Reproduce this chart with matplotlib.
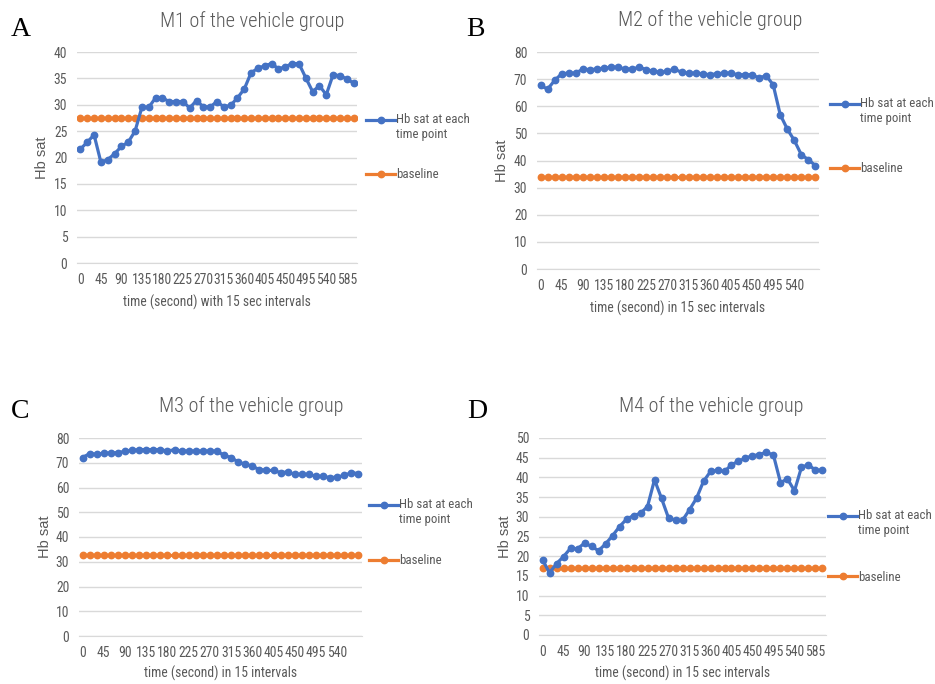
import matplotlib
matplotlib.use("Agg")
import matplotlib.pyplot as plt
from matplotlib.legend_handler import HandlerLine2D

W, H = 935, 684

BLUE = "#4472C4"
ORANGE = "#ED7D31"
TEXT = "#595959"
GRID = "#D9D9D9"
NARROW = ["Roboto Condensed", "Liberation Sans"]

# Hb saturation, one reading every 15 s
hb_m1 = [21.6, 22.9, 24.3, 19.1, 19.6, 20.7, 22.1, 22.9, 25.0, 29.5, 29.5,
         31.3, 31.3, 30.6, 30.6, 30.6, 29.4, 30.8, 29.6, 29.6, 30.6, 29.6,
         29.9, 31.3, 33.0, 36.1, 36.9, 37.4, 37.8, 36.8, 37.2, 37.8, 37.8,
         35.1, 32.5, 33.6, 31.9, 35.7, 35.5, 34.9, 34.1]
hb_m2 = [67.7, 66.3, 69.5, 72.0, 72.2, 72.2, 73.7, 73.5, 73.7, 74.1, 74.4,
         74.4, 73.7, 73.7, 74.4, 73.5, 72.9, 72.5, 72.9, 73.7, 72.5, 72.2,
         72.2, 72.0, 71.6, 72.0, 72.2, 72.2, 71.6, 71.6, 71.6, 70.4, 71.3,
         67.9, 56.9, 51.6, 47.4, 42.1, 40.3, 38.1]
hb_m3 = [72.1, 73.7, 73.4, 73.9, 73.9, 74.1, 74.6, 75.0, 75.3, 75.3, 75.3,
         75.3, 74.7, 75.3, 74.7, 74.7, 74.7, 74.7, 74.7, 74.7, 73.0, 72.1,
         70.3, 69.4, 68.6, 67.2, 66.9, 66.9, 66.0, 66.3, 65.3, 65.3, 65.3,
         64.5, 64.5, 64.0, 64.2, 64.9, 66.0, 65.6]
hb_m4 = [19.1, 15.8, 18.1, 19.9, 22.0, 21.9, 23.3, 22.5, 21.4, 23.1, 25.2,
         27.5, 29.4, 30.3, 30.9, 32.6, 39.4, 34.7, 29.7, 29.1, 29.1, 31.8,
         34.7, 39.0, 41.5, 41.8, 41.5, 43.2, 44.1, 44.9, 45.5, 45.8, 46.4,
         45.6, 38.7, 39.6, 36.6, 42.6, 43.2, 41.8, 41.8]

# baseline Hb sat per mouse
baselines = [27.5, 34.0, 32.6, 17.0]

titles = ["M1 of the vehicle group", "M2 of the vehicle group",
          "M3 of the vehicle group", "M4 of the vehicle group"]
xlabels = ["time (second) with 15 sec intervals",
           "time (second) in 15 sec intervals",
           "time (second) in 15 intervals",
           "time (second) in 15 sec intervals"]
letters = ["A", "B", "C", "D"]
y_tops = [40, 80, 80, 50]
y_steps = [5, 10, 10, 5]
last_tick = [585, 540, 540, 585]


class TopLineHandler(HandlerLine2D):
    # puts the legend line level with the first line of a two-line label
    def __init__(self, lift, **kw):
        super().__init__(**kw)
        self.lift = lift

    def create_artists(self, legend, orig_handle, xdescent, ydescent,
                       width, height, fontsize, trans):
        return super().create_artists(legend, orig_handle, xdescent,
                                      ydescent - 2 * self.lift, width, height,
                                      fontsize, trans)


def px_rect(left, top, right, bottom):
    return [left / W, 1 - bottom / H, (right - left) / W, (bottom - top) / H]


def draw_panel(fig, k, hb, box, title_xy, letter_xy, xlabel_y, ylabel_x,
               legend_xy, legend_gap):
    left, top, right, bottom = box
    ax = fig.add_axes(px_rect(left, top, right, bottom))
    n = len(hb)
    idx = list(range(n))
    times = [15 * i for i in idx]

    hb_line, = ax.plot(idx, hb, color=BLUE, lw=2.3, marker="o", ms=4.6,
                       label="Hb sat at each\ntime point", zorder=3)
    base_line, = ax.plot(idx, [baselines[k]] * n, color=ORANGE, lw=2.3,
                         marker="o", ms=4.6, label="baseline", zorder=2)

    ax.set_xlim(-0.5, n - 0.5)
    ax.set_ylim(0, y_tops[k])
    ax.set_yticks(range(0, y_tops[k] + 1, y_steps[k]))
    ticks = [i for i in idx if i % 3 == 0 and times[i] <= last_tick[k]]
    ax.set_xticks(ticks)
    ax.set_xticklabels([str(times[i]) for i in ticks])
    ax.tick_params(length=0, colors=TEXT, labelsize=9.8)
    ax.tick_params(axis="y", pad=7)
    ax.tick_params(axis="x", pad=7)
    for lab in ax.get_xticklabels() + ax.get_yticklabels():
        lab.set_family(NARROW)

    ax.grid(axis="y", color=GRID, lw=1)
    ax.set_axisbelow(True)
    for side in ["top", "right", "left"]:
        ax.spines[side].set_visible(False)
    ax.spines["bottom"].set_color(GRID)

    h = bottom - top
    ax.set_xlabel(xlabels[k], color=TEXT, fontsize=9.8, family=NARROW)
    ax.xaxis.set_label_coords(0.5, -(xlabel_y - bottom) / h)
    ax.xaxis.label.set_verticalalignment("center")
    ax.set_ylabel("Hb sat", color=TEXT, fontsize=10.5, family="Liberation Sans")
    ax.yaxis.set_label_coords(-(left - ylabel_x) / (right - left), 0.5)
    ax.yaxis.label.set_verticalalignment("center")

    leg = ax.legend(handles=[hb_line, base_line], loc="upper left",
                    bbox_to_anchor=(legend_xy[0] / W, 1 - legend_xy[1] / H),
                    bbox_transform=fig.transFigure, frameon=False,
                    borderpad=0, borderaxespad=0, handlelength=2.25,
                    handletextpad=0.1, labelspacing=legend_gap,
                    handler_map={hb_line: TopLineHandler(5.2)},
                    prop={"family": NARROW, "size": 9.3})
    for t in leg.get_texts():
        t.set_color(TEXT)

    fig.text(title_xy[0] / W, 1 - title_xy[1] / H, titles[k], ha="center",
             va="center", fontsize=14.6, color=TEXT, family=NARROW,
             fontweight="light")
    fig.text(letter_xy[0] / W, 1 - letter_xy[1] / H, letters[k], ha="center",
             va="center", fontsize=20, color="black", family="Liberation Serif")


fig = plt.figure(figsize=(W / 100, H / 100), dpi=100)

draw_panel(fig, 0, hb_m1, (77, 52, 357, 263), (252, 21), (21, 30), 302, 42,
           (366, 113), 2.1)
draw_panel(fig, 1, hb_m2, (537, 52, 819, 269), (710, 20), (475, 29), 308, 502,
           (830, 97), 2.9)
draw_panel(fig, 2, hb_m3, (79, 438, 362, 636), (251, 406), (20, 411), 673, 45,
           (369, 498), 2.2)
draw_panel(fig, 3, hb_m4, (539, 438, 826, 635), (711, 406), (477, 411), 673, 505,
           (828, 509), 2.6)

fig.savefig("out.png", dpi=100, facecolor="white")
